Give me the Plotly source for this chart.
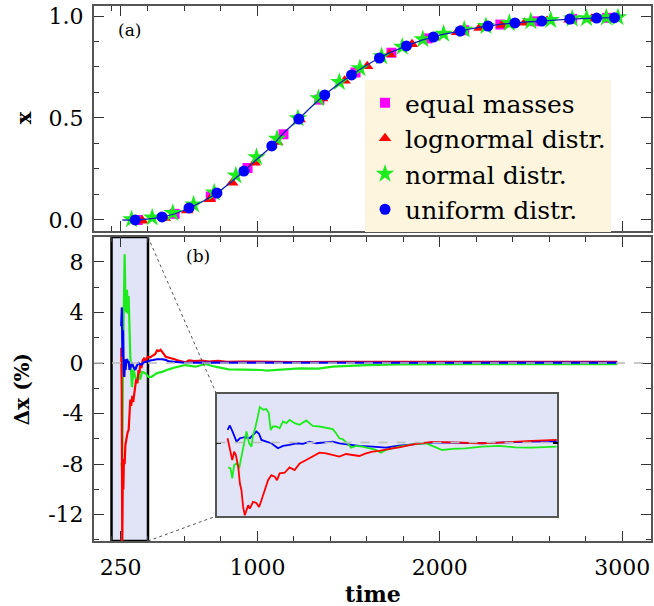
import plotly.graph_objects as go

# ---------------- data: panel (a) ----------------
curve_t = [260, 329, 408, 477, 556, 625, 704, 778, 852, 926, 1000, 1079, 1148, 1227, 1296,
           1369, 1444, 1516, 1592, 1669, 1740, 1817, 1888, 1965, 2036, 2112, 2184, 2264,
           2332, 2412, 2479, 2559, 2627, 2713, 2775, 2860, 2963]
curve_x = [0.0, 0.0, 0.005, 0.015, 0.033, 0.059, 0.093, 0.132, 0.183, 0.240, 0.300, 0.363,
           0.430, 0.495, 0.555, 0.613, 0.665, 0.711, 0.755, 0.794, 0.825, 0.853, 0.877,
           0.897, 0.913, 0.926, 0.939, 0.951, 0.959, 0.966, 0.971, 0.975, 0.980, 0.985,
           0.987, 0.990, 0.992]

equal_t = [344, 546, 744, 946, 1143, 1340, 1538, 1735, 1932, 2134, 2332, 2524, 2726, 2918]
equal_x = [0.0, 0.03, 0.115, 0.255, 0.42, 0.59, 0.723, 0.82, 0.89, 0.93, 0.958, 0.974, 0.985, 0.991]

logn_t = [369, 492, 615, 739, 862, 985, 1108, 1232, 1355, 1478, 1602, 1725, 1848, 1971,
          2095, 2218, 2341, 2465, 2588, 2711, 2834, 2958]
logn_x = [-0.004, 0.010, 0.047, 0.102, 0.182, 0.280, 0.382, 0.492, 0.595, 0.682, 0.754,
          0.812, 0.861, 0.894, 0.920, 0.941, 0.956, 0.967, 0.975, 0.982, 0.986, 0.990]

norm_t = [310, 423, 536, 650, 763, 882, 995, 1108, 1222, 1335, 1449, 1562, 1681, 1794,
          1907, 2021, 2134, 2253, 2381, 2499, 2608, 2726, 2805, 2913, 2977]
norm_x = [0.003, 0.012, 0.034, 0.076, 0.134, 0.218, 0.308, 0.398, 0.498, 0.597, 0.676,
          0.744, 0.802, 0.849, 0.886, 0.913, 0.933, 0.951, 0.965, 0.974, 0.980, 0.987,
          0.989, 0.992, 0.994]

unif_t = [330, 477, 625, 778, 926, 1079, 1227, 1369, 1516, 1669, 1817, 1965, 2112, 2264,
          2412, 2559, 2713, 2860, 2958]
unif_x = [0.0, 0.015, 0.059, 0.132, 0.240, 0.363, 0.495, 0.613, 0.711, 0.794, 0.853, 0.897,
          0.926, 0.951, 0.966, 0.975, 0.985, 0.990, 0.992]

# ---------------- data: panel (b), relative deviation in % ----------------
red_t = [253, 256, 259, 262, 265, 268, 272, 276, 281, 288, 294, 300, 303, 308, 314, 319, 327,
         335, 342, 348, 353, 357, 364, 371, 380, 388, 398, 412, 428, 439, 450, 460, 469, 477,
         487, 497, 512, 527, 546, 566, 586, 605, 625, 655, 694, 734, 783, 832, 901, 1000,
         1197, 1493, 1986, 2479, 2973]
red_d = [1.2, -2.0, -14.5, -9.0, -10.0, -7.6, -8.0, -6.5, -6.0, -5.5, -5.3, -3.2, -2.9, -3.4,
         -2.6, -3.1, -2.3, -1.3, -1.6, -0.55, -0.8, -0.16, -0.4, 0.2, 0.4, 0.1, 0.5, 0.45,
         0.6, 0.7, 1.0, 0.95, 1.05, 0.85, 0.7, 0.5, 0.45, 0.35, 0.3, 0.2, 0.1, 0.05, 0.2,
         0.15, 0.2, 0.12, 0.18, 0.1, 0.12, 0.1, 0.08, 0.1, 0.08, 0.1, 0.1]

green_t = [255, 259, 263, 267, 272, 276, 280, 285, 290, 294, 299, 303, 312, 320, 330, 339,
           348, 357, 367, 385, 403, 419, 449, 477, 514, 550, 605, 660, 714, 769, 842, 915,
           1025, 1049, 1152, 1232, 1335, 1413, 1596, 1778, 2142, 2506, 2973]
green_d = [-7.9, -8.7, 0.5, 5.5, 8.6, 5.3, 4.0, 5.8, 3.9, 5.3, 2.6, 0.5, -1.9, -0.5, -1.1,
           -1.6, -0.8, -1.3, -0.7, -0.8, -1.1, -1.1, -0.8, -0.7, -0.5, -0.34, -0.16, -0.29,
           -0.08, -0.29, -0.5, -0.5, -0.55, -0.6, -0.5, -0.42, -0.45, -0.29, -0.16, -0.1,
           -0.08, -0.08, -0.08]

blue_t = [253, 257, 260, 263, 267, 270, 274, 277, 281, 285, 290, 294, 299, 305, 312, 320,
          330, 339, 348, 357, 367, 376, 385, 398, 412, 428, 449, 477, 497, 514, 556, 605,
          704, 1000, 1493, 1986, 2479, 2973]
blue_d = [2.9, 4.4, 0.5, 2.6, -0.5, -1.1, 0.3, -0.55, 0.2, 0.3, 0.1, 0.08, -0.55, -0.2, 0.0,
          -0.3, -0.55, -0.2, 0.0, -0.1, -0.1, 0.05, 0.1, 0.15, 0.2, 0.24, 0.3, 0.3, 0.25,
          0.13, 0.08, 0.02, 0.03, 0.02, 0.03, 0.02, 0.03, 0.03]

# ---------------- data: inset (magnified deviations) ----------------
ins_blue_t = [250, 269, 297, 325, 353, 394, 436, 463, 491, 513, 533, 574, 616, 671, 713, 768,
              824, 879, 935, 990, 1046, 1129, 1184, 1267, 1350, 1461, 1572, 1683, 1822, 1960,
              2099, 2238, 2376, 2515, 2653, 2792, 3000]
ins_blue_d = [0.38, 0.51, 0.28, 0.03, 0.13, 0.16, 0.13, 0.23, 0.33, 0.26, 0.08, 0.03, -0.02,
              -0.17, -0.10, -0.07, -0.02, -0.04, 0.03, -0.02, 0.0, 0.03, -0.02, -0.07, -0.10,
              -0.12, -0.15, -0.09, -0.04, 0.0, 0.0, -0.02, -0.02, 0.0, 0.02, 0.03, 0.04]

ins_red_t = [250, 269, 289, 305, 319, 339, 353, 366, 380, 394, 408, 422, 436, 463, 491, 513,
             533, 560, 588, 616, 644, 663, 685, 727, 768, 810, 852, 907, 962, 1018, 1073, 1129,
             1184, 1240, 1295, 1350, 1406, 1461, 1517, 1572, 1628, 1683, 1739, 1822, 1960,
             2099, 2238, 2376, 2515, 2653, 2792, 3000]
ins_red_d = [0.13, -0.22, -0.52, -0.27, -0.37, -0.72, -1.22, -1.42, -1.92, -2.17, -2.02, -1.87,
             -1.97, -1.77, -1.80, -1.92, -1.72, -1.42, -1.12, -0.97, -1.02, -1.12, -0.92, -0.90,
             -0.74, -0.82, -0.62, -0.52, -0.42, -0.30, -0.32, -0.37, -0.42, -0.34, -0.37, -0.40,
             -0.32, -0.27, -0.25, -0.20, -0.17, -0.14, -0.10, -0.04, 0.02, 0.0, -0.02, -0.02,
             0.0, 0.03, 0.05, 0.08]

ins_green_t = [256, 275, 289, 305, 325, 347, 366, 386, 408, 430, 450, 463, 477, 497, 519, 547,
               574, 594, 610, 630, 657, 685, 713, 741, 768, 810, 852, 907, 962, 1018, 1073,
               1129, 1156, 1184, 1212, 1253, 1281, 1323, 1378, 1434, 1489, 1531, 1572, 1628,
               1683, 1794, 1905, 1960, 2043, 2127, 2238, 2376, 2515, 2653, 2792, 3000]
ins_green_d = [-0.74, -0.77, -1.07, -0.67, -0.62, -0.77, -0.42, -0.02, 0.33, -0.02, -0.12,
               0.23, 0.38, 0.68, 1.06, 0.98, 1.00, 0.88, 0.38, 0.48, 0.48, 0.43, 0.63, 0.58,
               0.68, 0.58, 0.53, 0.66, 0.50, 0.48, 0.43, 0.40, 0.28, 0.13, 0.10, -0.02, -0.15,
               -0.10, -0.12, -0.17, -0.22, -0.30, -0.22, -0.17, -0.12, -0.05, -0.02, -0.10,
               -0.22, -0.19, -0.17, -0.12, -0.10, -0.14, -0.15, -0.12]

x_tickvals = [250, 1000, 2000, 3000]
x_ticktext = ["250", "1000", "2000", "3000"]
ya_tickvals = [0, 0.5, 1.0]
ya_ticktext = ["0.0", "0.5", "1.0"]
yb_tickvals = [-12, -8, -4, 0, 4, 8]
yb_ticktext = ["-12", "-8", "-4", "0", "4", "8"]
zoom_window = [200, 400]

# ---------------- layout geometry ----------------
W, H = 654, 606
ML, MR, MT, MB = 94, 1, 6, 65
PW, PH = W - ML - MR, H - MT - MB
XR = [104, 3158]
YR_A = [-0.054, 1.049]
YR_B = [-14.08, 9.97]
INS_XR = [158, 3005]
INS_YR = [-2.19, 1.45]


def fx(px):
    return (px - ML) / PW


def fy(py):
    return (H - MB - py) / PH


dom_a = [fy(231), 1.0]
dom_b = [0.0, fy(237)]
ins_x = [fx(217), fx(559)]
ins_y = [fy(516), fy(394)]

SERIF = "DejaVu Serif, Liberation Serif, serif"
RED, GREEN, BLUE, MAG = "#FF0000", "#1EEB1E", "#0000FF", "#FF00FF"
LAV = "#E1E3F6"
FRAME = "#555555"

fig = go.Figure()

# panel (a)
fig.add_trace(go.Scatter(x=equal_t, y=equal_x, mode="markers", name="equal masses",
                         legendgroup="a",
                         marker=dict(symbol="square", size=10, color=MAG), xaxis="x", yaxis="y"))
fig.add_trace(go.Scatter(x=logn_t, y=logn_x, mode="markers", name="lognormal distr.",
                         legendgroup="b",
                         marker=dict(symbol="triangle-up", size=11, color=RED), xaxis="x", yaxis="y"))
fig.add_trace(go.Scatter(x=norm_t, y=norm_x, mode="markers", name="normal distr.",
                         legendgroup="c",
                         marker=dict(symbol="star", size=14, color=GREEN), xaxis="x", yaxis="y"))
fig.add_trace(go.Scatter(x=curve_t, y=curve_x, mode="lines", showlegend=False,
                         line=dict(color="#1020B0", width=1.3, shape="spline"), xaxis="x", yaxis="y"))
fig.add_trace(go.Scatter(x=unif_t, y=unif_x, mode="markers", name="uniform distr.",
                         legendgroup="d",
                         marker=dict(symbol="circle", size=11, color=BLUE), xaxis="x", yaxis="y"))

# panel (b)
for t, d, c in [(green_t, green_d, GREEN), (red_t, red_d, RED), (blue_t, blue_d, BLUE)]:
    fig.add_trace(go.Scatter(x=t, y=d, mode="lines", showlegend=False, cliponaxis=True,
                             line=dict(color=c, width=2.2), xaxis="x2", yaxis="y2"))

# inset
for t, d, c in [(ins_blue_t, ins_blue_d, BLUE), (ins_green_t, ins_green_d, GREEN),
                (ins_red_t, ins_red_d, RED)]:
    fig.add_trace(go.Scatter(x=t, y=d, mode="lines", showlegend=False,
                             line=dict(color=c, width=1.8), xaxis="x3", yaxis="y3"))

tickfont = dict(family=SERIF, size=22, color="black")
common_x = dict(range=XR, showline=True, linecolor=FRAME, linewidth=2, mirror="ticks",
                ticks="inside", ticklen=10, tickwidth=1.2, tickcolor="#333",
                tickvals=x_tickvals, ticktext=x_ticktext,
                minor=dict(ticks="inside", dtick=200, tick0=0, ticklen=5, tickcolor="#333"),
                showgrid=False, zeroline=False, tickfont=tickfont)

shapes = [
    dict(type="rect", xref="x2", yref="y2 domain", x0=zoom_window[0], x1=zoom_window[1],
         y0=0, y1=1, fillcolor=LAV, line=dict(color="black", width=2.5), layer="below"),
    dict(type="rect", xref="x3 domain", yref="y3 domain", x0=0, x1=1, y0=0, y1=1,
         fillcolor=LAV, line=dict(width=0), layer="below"),
    dict(type="line", xref="x2 domain", yref="y2", x0=0, x1=1, y0=0, y1=0,
         line=dict(color="#BBBBBB", width=1.5, dash="dash"), layer="above"),
    dict(type="line", xref="x3 domain", yref="y3", x0=0, x1=1, y0=0, y1=0,
         line=dict(color="#BBBBBB", width=1.5, dash="dash"), layer="above"),
]
xw = (zoom_window[1] - XR[0]) / (XR[1] - XR[0])
shapes += [
    dict(type="line", xref="paper", yref="paper", x0=xw, y0=dom_b[1], x1=ins_x[0], y1=ins_y[1],
         line=dict(color="#555", width=1, dash="dot")),
    dict(type="line", xref="paper", yref="paper", x0=xw, y0=0, x1=ins_x[0], y1=ins_y[0],
         line=dict(color="#555", width=1, dash="dot")),
]


def label(text, px, py, size, angle=0):
    return dict(text=text, x=fx(px), y=fy(py), xref="paper", yref="paper", showarrow=False,
                xanchor="center", yanchor="middle", textangle=angle,
                font=dict(family=SERIF, size=size, color="black"))


annotations = [
    label("(a)", 130, 30, 17),
    label("(b)", 198, 256, 17),
    label("<b>x</b>", 24, 118, 21, -90),
    label("<b>Δx (%)</b>", 22, 389, 20, -90),
    label("<b>time</b>", 374, 594, 22),
]

fig.update_layout(
    width=W, height=H,
    margin=dict(l=ML, r=MR, t=MT, b=MB),
    paper_bgcolor="white", plot_bgcolor="rgba(0,0,0,0)",
    font=dict(family=SERIF, color="black"),
    xaxis=dict(common_x, domain=[0, 1], anchor="y", showticklabels=False, matches="x2"),
    yaxis=dict(domain=dom_a, anchor="x", range=YR_A, showline=True, linecolor=FRAME,
               linewidth=2, mirror="ticks", ticks="inside", ticklen=10, tickwidth=1.2,
               tickcolor="#333", tickvals=ya_tickvals, ticktext=ya_ticktext,
               minor=dict(ticks="inside", dtick=0.125, tick0=0, ticklen=5, tickcolor="#333"),
               showgrid=False, zeroline=False, tickfont=tickfont, ticklabelstandoff=4),
    xaxis2=dict(common_x, domain=[0, 1], anchor="y2", ticklabelstandoff=6),
    yaxis2=dict(domain=dom_b, anchor="x2", range=YR_B, showline=True, linecolor=FRAME,
                linewidth=2, mirror="ticks", ticks="inside", ticklen=10, tickwidth=1.2,
                tickcolor="#333", tickvals=yb_tickvals, ticktext=yb_ticktext,
                minor=dict(ticks="inside", dtick=2, tick0=0, ticklen=5, tickcolor="#333"),
                showgrid=False, zeroline=False, tickfont=tickfont, ticklabelstandoff=4),
    xaxis3=dict(domain=ins_x, anchor="y3", range=INS_XR, showline=True, linecolor=FRAME,
                linewidth=1.5, mirror=True, ticks="", showticklabels=False,
                showgrid=False, zeroline=False),
    yaxis3=dict(domain=ins_y, anchor="x3", range=INS_YR, showline=True, linecolor=FRAME,
                linewidth=1.5, mirror="ticks", ticks="inside", ticklen=5, tickwidth=2,
                tickcolor="black", tickvals=[0], showticklabels=False,
                showgrid=False, zeroline=False),
    legend=dict(x=fx(366), y=fy(80), xanchor="left", yanchor="top",
                bgcolor="#FDF5DE", borderwidth=0, tracegroupgap=0, traceorder="grouped",
                font=dict(family=SERIF, size=25, color="black"), itemwidth=30),
    shapes=shapes,
    annotations=annotations,
    showlegend=True,
)

fig.write_html("out.html", config={"displayModeBar": False},
               post_script="document.body.style.margin='0px';")
